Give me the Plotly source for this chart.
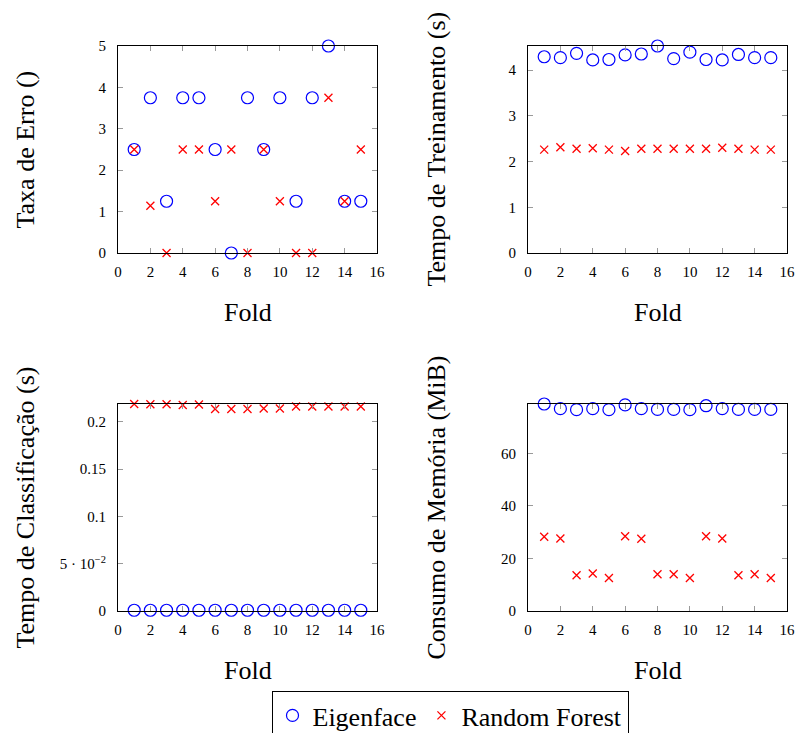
import plotly.graph_objects as go

W, H = 798, 733


def px(x):
    return x / W


def py(y):
    return 1 - y / H


folds = list(range(1, 16))

# Taxa de Erro ()
err_eig = [2.5, 3.75, 1.25, 3.75, 3.75, 2.5, 0, 3.75, 2.5, 3.75, 1.25, 3.75, 5.0, 1.25, 1.25]
err_rf = [2.5, 1.14, 0, 2.5, 2.5, 1.25, 2.5, 0, 2.5, 1.25, 0, 0, 3.75, 1.25, 2.5]

# Tempo de Treinamento (s)
train_eig = [4.29, 4.27, 4.365, 4.22, 4.23, 4.33, 4.35, 4.525, 4.25, 4.39, 4.23, 4.22, 4.34, 4.27, 4.27]
train_rf = [2.26, 2.31, 2.28, 2.29, 2.26, 2.23, 2.28, 2.28, 2.28, 2.28, 2.28, 2.30, 2.28, 2.26, 2.26]

# Tempo de Classificação (s)
class_eig = [0.0008] * 15
class_rf = [0.219, 0.2188, 0.2188, 0.218, 0.2184, 0.2138, 0.2138, 0.2138, 0.2142, 0.2142,
            0.2163, 0.2163, 0.2163, 0.2163, 0.2163]

# Consumo de Memória (MiB)
mem_eig = [78.85, 77.07, 76.7, 77.07, 76.7, 78.5, 77.07, 76.8, 76.8, 76.7, 78.2, 77.1, 76.8, 76.8, 76.8]
mem_rf = [28.3, 27.6, 13.6, 14.3, 12.6, 28.5, 27.5, 14.0, 14.0, 12.6, 28.5, 27.6, 13.6, 14.0, 12.6]

x_ticks = [0, 2, 4, 6, 8, 10, 12, 14, 16]

panels = [
    dict(eig=err_eig, rf=err_rf, title="Taxa de Erro ()", yrange=[0, 5],
         yticks=[0, 1, 2, 3, 4, 5], yticktext=["0", "1", "2", "3", "4", "5"],
         box=(118, 377, 46, 253), ytx=25, ftx=312),
    dict(eig=train_eig, rf=train_rf, title="Tempo de Treinamento (s)", yrange=[0, 4.525],
         yticks=[0, 1, 2, 3, 4], yticktext=["0", "1", "2", "3", "4"],
         box=(528, 787, 46, 253), ytx=436, ftx=312),
    dict(eig=class_eig, rf=class_rf, title="Tempo de Classificação (s)", yrange=[0, 0.219],
         yticks=[0, 0.05, 0.1, 0.15, 0.2],
         yticktext=["0", "5 · 10<sup>−2</sup>", "0.1", "0.15", "0.2"],
         box=(118, 377, 404, 611), ytx=25, ftx=670),
    dict(eig=mem_eig, rf=mem_rf, title="Consumo de Memória (MiB)", yrange=[0, 78.85],
         yticks=[0, 20, 40, 60], yticktext=["0", "20", "40", "60"],
         box=(528, 787, 404, 611), ytx=436, ftx=670),
]

TITLE_FONT = dict(family="Liberation Serif", size=26, color="black")
TICK_FONT = dict(family="Liberation Serif", size=15, color="black")

fig = go.Figure()
annotations = []
layout = {}
for i, p in enumerate(panels):
    n = "" if i == 0 else str(i + 1)
    xa, ya = "x" + n, "y" + n
    x0, x1, y0, y1 = p["box"]
    fig.add_trace(go.Scatter(
        x=folds, y=p["eig"], mode="markers", name="Eigenface", xaxis=xa, yaxis=ya,
        showlegend=(i == 0), cliponaxis=False,
        marker=dict(symbol="circle-open", size=12, color="blue", line=dict(width=1.2, color="blue"))))
    fig.add_trace(go.Scatter(
        x=folds, y=p["rf"], mode="markers", name="Random Forest", xaxis=xa, yaxis=ya,
        showlegend=(i == 0), cliponaxis=False,
        marker=dict(symbol="x-thin-open", size=8, color="red", line=dict(width=1.3, color="red"))))
    common = dict(showline=True, linecolor="black", linewidth=1, mirror="ticks",
                  ticks="inside", ticklen=5, tickwidth=1, tickcolor="#9a9a9a",
                  showgrid=False, zeroline=False, tickfont=TICK_FONT,
                  automargin=False)
    layout["xaxis" + n] = dict(domain=[px(x0), px(x1)], range=[0, 16], anchor=ya,
                               tickvals=x_ticks, ticktext=[str(t) for t in x_ticks],
                               ticklabelstandoff=5, **common)
    layout["yaxis" + n] = dict(domain=[py(y1), py(y0)], range=p["yrange"], anchor=xa,
                               tickvals=p["yticks"], ticktext=p["yticktext"],
                               ticklabelstandoff=8, **common)
    annotations.append(dict(text=p["title"], xref="paper", yref="paper",
                            x=px(p["ytx"]), y=py((y0 + y1) / 2), textangle=-90,
                            showarrow=False, font=TITLE_FONT, xanchor="center", yanchor="middle"))
    annotations.append(dict(text="Fold", xref="paper", yref="paper",
                            x=px((x0 + x1) / 2), y=py(p["ftx"]),
                            showarrow=False, font=TITLE_FONT, xanchor="center", yanchor="middle"))

fig.update_layout(
    template="none",
    width=W, height=H, margin=dict(l=0, r=0, t=0, b=0, autoexpand=False),
    plot_bgcolor="white", paper_bgcolor="white",
    annotations=annotations,
    legend=dict(orientation="h", x=px(450), xanchor="center", y=py(691), yanchor="top",
                bordercolor="black", borderwidth=1, font=TITLE_FONT, bgcolor="white",
                itemwidth=30, tracegroupgap=0),
    **layout,
)

fig.write_html("out.html", config={"displayModeBar": False},
               post_script="document.body.style.margin='0px';document.body.style.overflow='hidden';")
